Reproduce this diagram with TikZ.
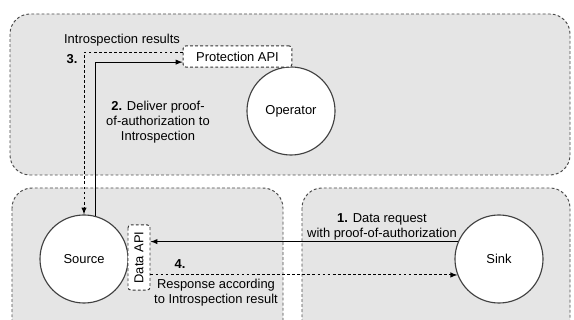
\documentclass[tikz,border=0pt]{standalone}
\usepackage{fontspec}
\setmainfont{Liberation Sans}
\usetikzlibrary{calc,arrows}

\begin{document}
\begin{tikzpicture}[x=0.025cm,y=-0.025cm,
    font=\fontsize{9.2}{10.6}\selectfont,
    region/.style={draw=black!70,fill=gray!20,line width=0.7pt,dash pattern=on 2pt off 1.6pt,rounded corners=0.5cm},
    actor/.style={circle,draw=black!75,fill=white,line width=0.8pt,minimum size=2.2cm,inner sep=0pt},
    api/.style={draw=black!80,fill=white,line width=0.7pt,dash pattern=on 2pt off 1.6pt,rounded corners=2pt,inner sep=1pt},
    flow/.style={-latex,line width=0.7pt},
    reply/.style={-latex,line width=0.7pt,dash pattern=on 2pt off 1.6pt},
    lbl/.style={align=center,inner sep=0pt}]
  \useasboundingbox (0,0) rectangle (574,320);
  \clip (0,0) rectangle (574,320);
  \fill[white] (0,0) rectangle (574,320);
  % domains
  \draw[region] (10,14) rectangle (570,175);
  \draw[region] (12,188) rectangle (283,340);
  \draw[region] (302,188) rectangle (570,340);
  % actors
  \node[actor](operator)at(291,111){Operator};
  \node[actor](source)at(84,259){Source};
  \node[actor](sink)at(499,259){Sink};
  % interfaces
  \node[api,minimum width=2.72cm,minimum height=0.53cm](papi)at(237.5,56.5){Protection API};
  \node[api,rotate=90,minimum width=1.63cm,minimum height=0.55cm](dapi)at(139,257.5){Data API};
  % messages
  \draw[flow] (sink.157) -- (dapi.south |- sink.157);
  \draw[flow] (source.75) |- ([yshift=-4pt]papi.west);
  \draw[reply] ([yshift=3pt]papi.west) -| (source.north);
  \draw[reply] (dapi.south |- sink.201) -- (sink.201);
  % labels
  \node[lbl](l1)at(382,227){\textbf{1.} Data request\\with proof-of-authorization};
  \node[lbl](l2)at(158,122){\textbf{2.} Deliver proof-\\of-authorization to\\Introspection};
  \node[lbl](l3a)at(122,40){Introspection results};
  \node[lbl](l3)at(72,59){\textbf{3.}};
  \node[lbl](l4)at(180,264){\textbf{4.}};
  \node[lbl](l4b)at(216,293){Response according\\to Introspection result};
\end{tikzpicture}
\end{document}
